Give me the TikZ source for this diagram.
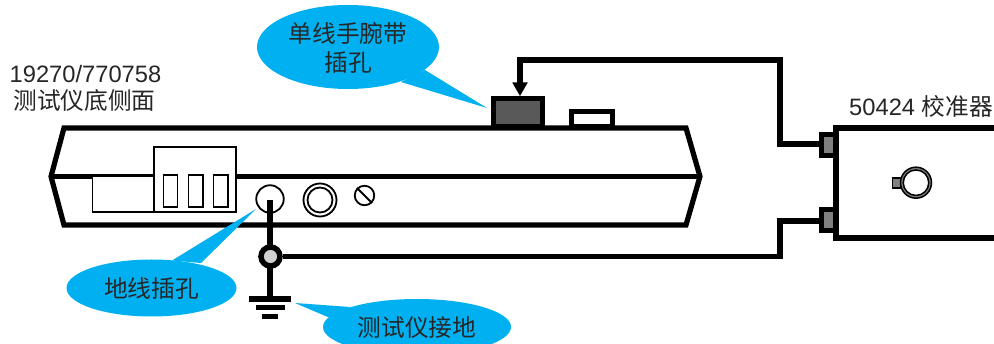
\documentclass[tikz,border=0pt]{standalone}
\usetikzlibrary{arrows.meta}
\usepackage{fontspec}
\setmainfont{Liberation Sans}
\newfontfamily\cjk{Noto Sans CJK SC}
\definecolor{callout}{HTML}{00B0F0}
\newcommand{\zh}[1]{{\cjk #1}}
\tikzset{
 heavy/.style={line width=5.2pt,line join=miter},
 wire/.style={line width=5.2pt,line join=miter},
 thin part/.style={draw=black,line width=1.8pt,fill=white},
 bubble/.style={fill=callout,draw=none},
 bar/.style={fill=black,draw=none,inner sep=0pt},
 txt/.style={inner sep=0pt,font=\fontsize{23.7}{40}\selectfont,text=black!85,align=center},
}
\begin{document}
\begin{tikzpicture}[x=1pt,y=-1pt]
\useasboundingbox (0,0) rectangle (994,344);
\clip (0,0) rectangle (994,344);
% body
\draw[heavy] (64,128) -- (686,128) -- (700,176.5) -- (686,225) -- (64,225) -- (51,176.5) -- cycle;
\draw[heavy,line width=4.6pt] (51,176.5) -- (700,176.5);
% top ports
\node[name=wristport,draw=black,line width=5pt,fill=black!65,minimum width=49pt,minimum height=28pt,inner sep=0pt] at (517.8,112.5) {};
\node[name=otherport,draw=black,line width=4.6pt,fill=white,minimum width=41pt,minimum height=15.5pt,inner sep=0pt] at (592,119) {};
% bottom-side parts
\draw[thin part] (92.5,176.5) rectangle (154,212);
\draw[thin part] (154,147) rectangle (236,212);
\draw[thin part] (163.5,175) rectangle (177.5,207);
\draw[thin part] (188.5,175) rectangle (203,207);
\draw[thin part] (213.5,175) rectangle (228,207);
\node[name=jack,circle,thin part,minimum size=27.5pt,inner sep=0pt] at (270,199) {};
\node[name=bnca,circle,thin part,minimum size=33pt,inner sep=0pt] at (320,200) {};
\node[name=bncb,circle,thin part,minimum size=25pt,inner sep=0pt] at (320,200) {};
\node[name=screw,circle,thin part,minimum size=19.5pt,inner sep=0pt] at (364.5,195.5) {};
\draw[line width=1.8pt] (screw.north west) -- (screw.south east);
% callouts
\fill[bubble] (348,47) ellipse [x radius=91,y radius=42];
\fill[bubble] (425,70) -- (487,108) -- (401,82) -- cycle;
\fill[bubble] (151.5,288) ellipse [x radius=85,y radius=28.5];
\fill[bubble] (172,260.5) -- (256,209) -- (201,263) -- cycle;
\fill[bubble] (417,327) ellipse [x radius=94,y radius=28];
\fill[bubble] (350,307) -- (295,303) -- (330,318) -- cycle;
% calibrator
\draw[heavy] (994,128) -- (836,128) -- (836,238) -- (994,238);
\node[name=cala,draw=black,line width=5pt,fill=black!50,minimum width=14pt,minimum height=21pt,inner sep=0pt] at (828.5,145.3) {};
\node[name=calb,draw=black,line width=5pt,fill=black!50,minimum width=14pt,minimum height=21pt,inner sep=0pt] at (828.5,220.3) {};
\draw[line width=1.5pt,fill=black!50] (892.5,178) rectangle (902,188);
\node[name=knob,circle,draw=black,line width=1.5pt,fill=black!50,minimum size=31pt,inner sep=0pt] at (916,182.7) {};
\node[name=knobin,circle,draw=black,line width=1.5pt,fill=white,minimum size=25.5pt,inner sep=0pt] at (916,182.7) {};
% ground symbol
\node[name=gbara,bar,minimum width=42pt,minimum height=5.5pt] at (270,299) {};
\node[name=gbarb,bar,minimum width=29pt,minimum height=5.5pt] at (270,307.3) {};
\node[name=gbarc,bar,minimum width=16pt,minimum height=5.5pt] at (270,316.3) {};
% wires
\coordinate (gtop) at (270,200);
\coordinate (turna) at (780,144);
\coordinate (turnb) at (780,221);
\coordinate (turnc) at (780,60);
\coordinate (turnd) at (520,60);
\draw[wire] (gtop) -- (gbara.north);
\node[name=junction,circle,draw=black,line width=5.5pt,fill=black!18,minimum size=19pt,inner sep=0pt] at (270.5,256.5) {};
\draw[wire] (junction.east) -| (turnb) -- (turnb -| calb.west);
\draw[wire] (turna -| cala.west) -- (turna) -- (turnc) -- (turnd);
\draw[wire,line cap=rect,-{Triangle[width=15.5pt,length=13.5pt,line width=0pt]}] (turnd) -- (turnd |- wristport.north);
% labels
\node[name=t1,txt] at (348,33) {\zh{单线手腕带}};
\node[name=t2,txt] at (348,63) {\zh{插孔}};
\node[name=t3,txt] at (151.5,288) {\zh{地线插孔}};
\node[name=t4,txt] at (417,328) {\zh{测试仪接地}};
\node[name=t5,txt] at (85.5,74) {19270/770758};
\node[name=t6,txt] at (84.5,101) {\zh{测试仪底侧面}};
\node[name=t7,txt,anchor=east] at (993,106) {50424 \zh{校准器}};
\end{tikzpicture}
\end{document}
